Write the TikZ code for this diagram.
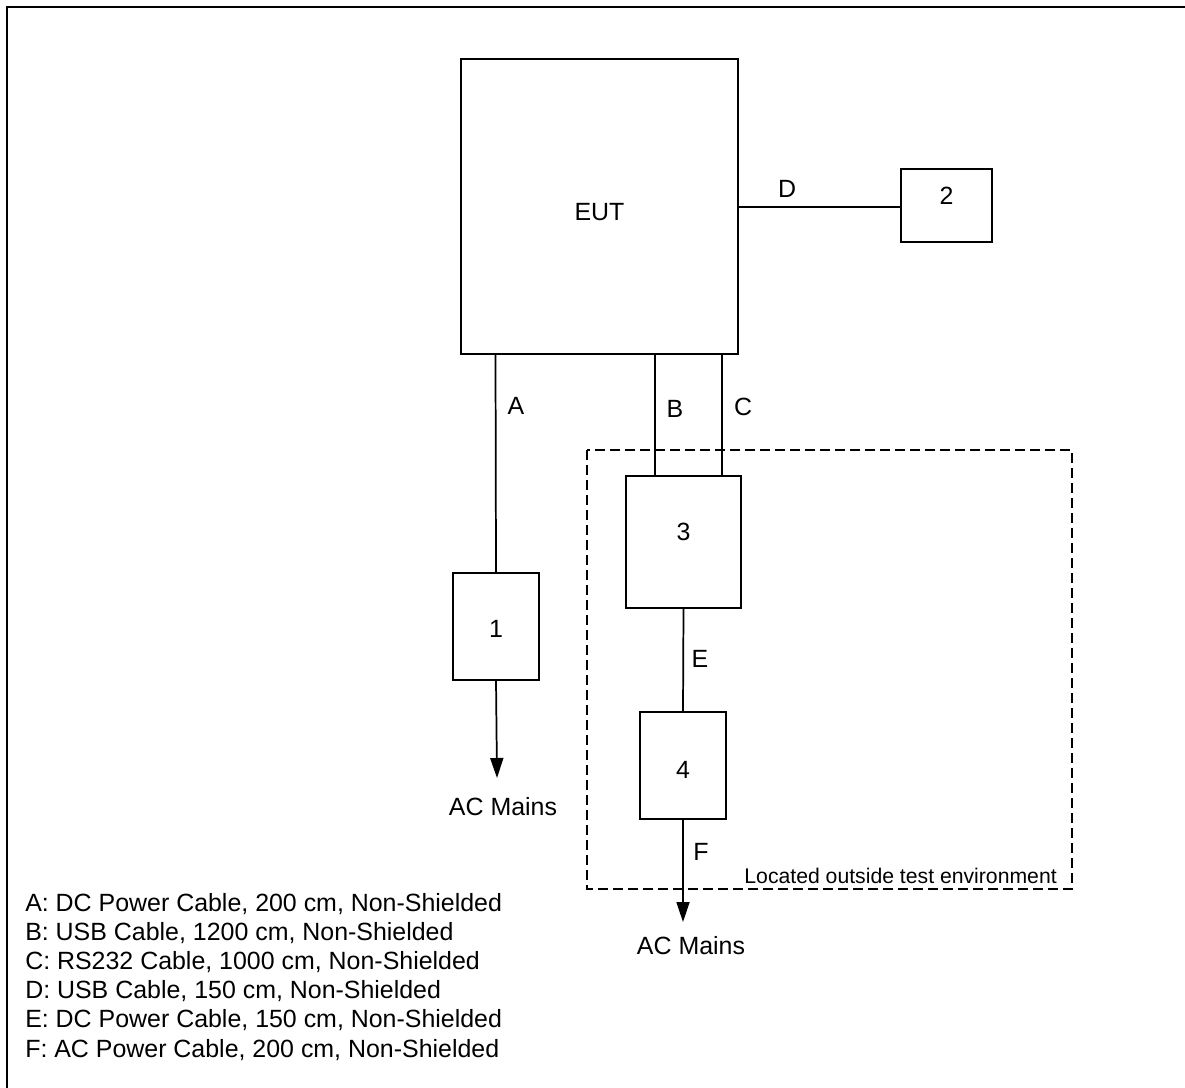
\documentclass[tikz,border=0pt]{standalone}
\usepackage{fontspec}
\setmainfont{Liberation Sans}
\usetikzlibrary{arrows.meta,positioning,calc}

\begin{document}
\begin{tikzpicture}[x=0.75pt, y=-0.75pt,
  >={Triangle[length=15pt, width=9.75pt]},
  box/.style={draw, line width=1.4pt, inner sep=0pt, outer sep=0pt},
  lab/.style={inner sep=0pt, font=\fontsize{18.7}{22}\selectfont},
  note/.style={inner sep=0pt, font=\fontsize{15.9}{19}\selectfont},
  cable/.style={line width=1.3pt}]
  \useasboundingbox (0,0) rectangle (1185,1088);
  % frame
  \draw[line width=2pt] (7,1088) -- (7,7) -- (1185,7);
  % devices
  \node[box, minimum width=207.75pt, minimum height=221.25pt,
        label={[lab, yshift=-4pt]center:EUT}] (EUT) at (599.5,206.5) {};
  \node[box, minimum width=68.25pt, minimum height=54.75pt,
        label={[lab, yshift=7pt]center:2}] (dev2) at (946.5,205.5) {};
  \node[box, minimum width=64.5pt, minimum height=80.25pt,
        label={[lab, yshift=-2pt]center:1}] (dev1) at (496,626.5) {};
  \node[box, minimum width=86.25pt, minimum height=99pt,
        label={[lab, yshift=7.5pt]center:3}] (dev3) at (683.5,542) {};
  \node[box, minimum width=64.5pt, minimum height=80.25pt,
        label={[lab, yshift=-3.5pt]center:4}] (dev4) at (683,765.5) {};
  % outside zone
  \draw[line width=1.4pt, dash pattern=on 7.5pt off 3.75pt] (587,450) rectangle (1072,889);
  \node[note, anchor=base east] (zone) at (1057,883) {Located outside test environment};
  % mains
  \coordinate (mains1) at (497,778);
  \coordinate (mains4) at (683,922);
  \node[lab] (ac1) at (503,807) {AC Mains};
  \node[lab] (ac4) at (691,946) {AC Mains};
  % cables
  \draw[cable] ($(EUT.south west)+(34.5,0)$) -- (dev1.north);
  \draw[cable] ($(EUT.south west)+(194,0)$) -- ($(dev3.north west)+(29,0)$);
  \draw[cable] ($(EUT.south west)+(261,0)$) -- ($(dev3.north west)+(96,0)$);
  \draw[cable] (EUT.east |- 0,207) -- (dev2.west |- 0,207);
  \draw[cable] (dev3.south) -- (dev4.north);
  \draw[cable, ->] (dev1.south) -- (mains1);
  \draw[cable, ->] (dev4.south) -- (mains4);
  % cable letters
  \node[lab] (labA) at (516,406) {A};
  \node[lab] (labB) at (675,409) {B};
  \node[lab] (labC) at (743,407) {C};
  \node[lab] (labD) at (787,189) {D};
  \node[lab] (labE) at (700,659) {E};
  \node[lab] (labF) at (701,852) {F};
  % legend
  \foreach \txt [count=\i from 0] in {{A: DC Power Cable, 200 cm, Non-Shielded},
      {B: USB Cable, 1200 cm, Non-Shielded}, {C: RS232 Cable, 1000 cm, Non-Shielded},
      {D: USB Cable, 150 cm, Non-Shielded}, {E: DC Power Cable, 150 cm, Non-Shielded},
      {F: AC Power Cable, 200 cm, Non-Shielded}}
    \node[lab, anchor=base west] (leg\i) at (25,{911+29.2*\i}) {\txt};
\end{tikzpicture}
\end{document}
